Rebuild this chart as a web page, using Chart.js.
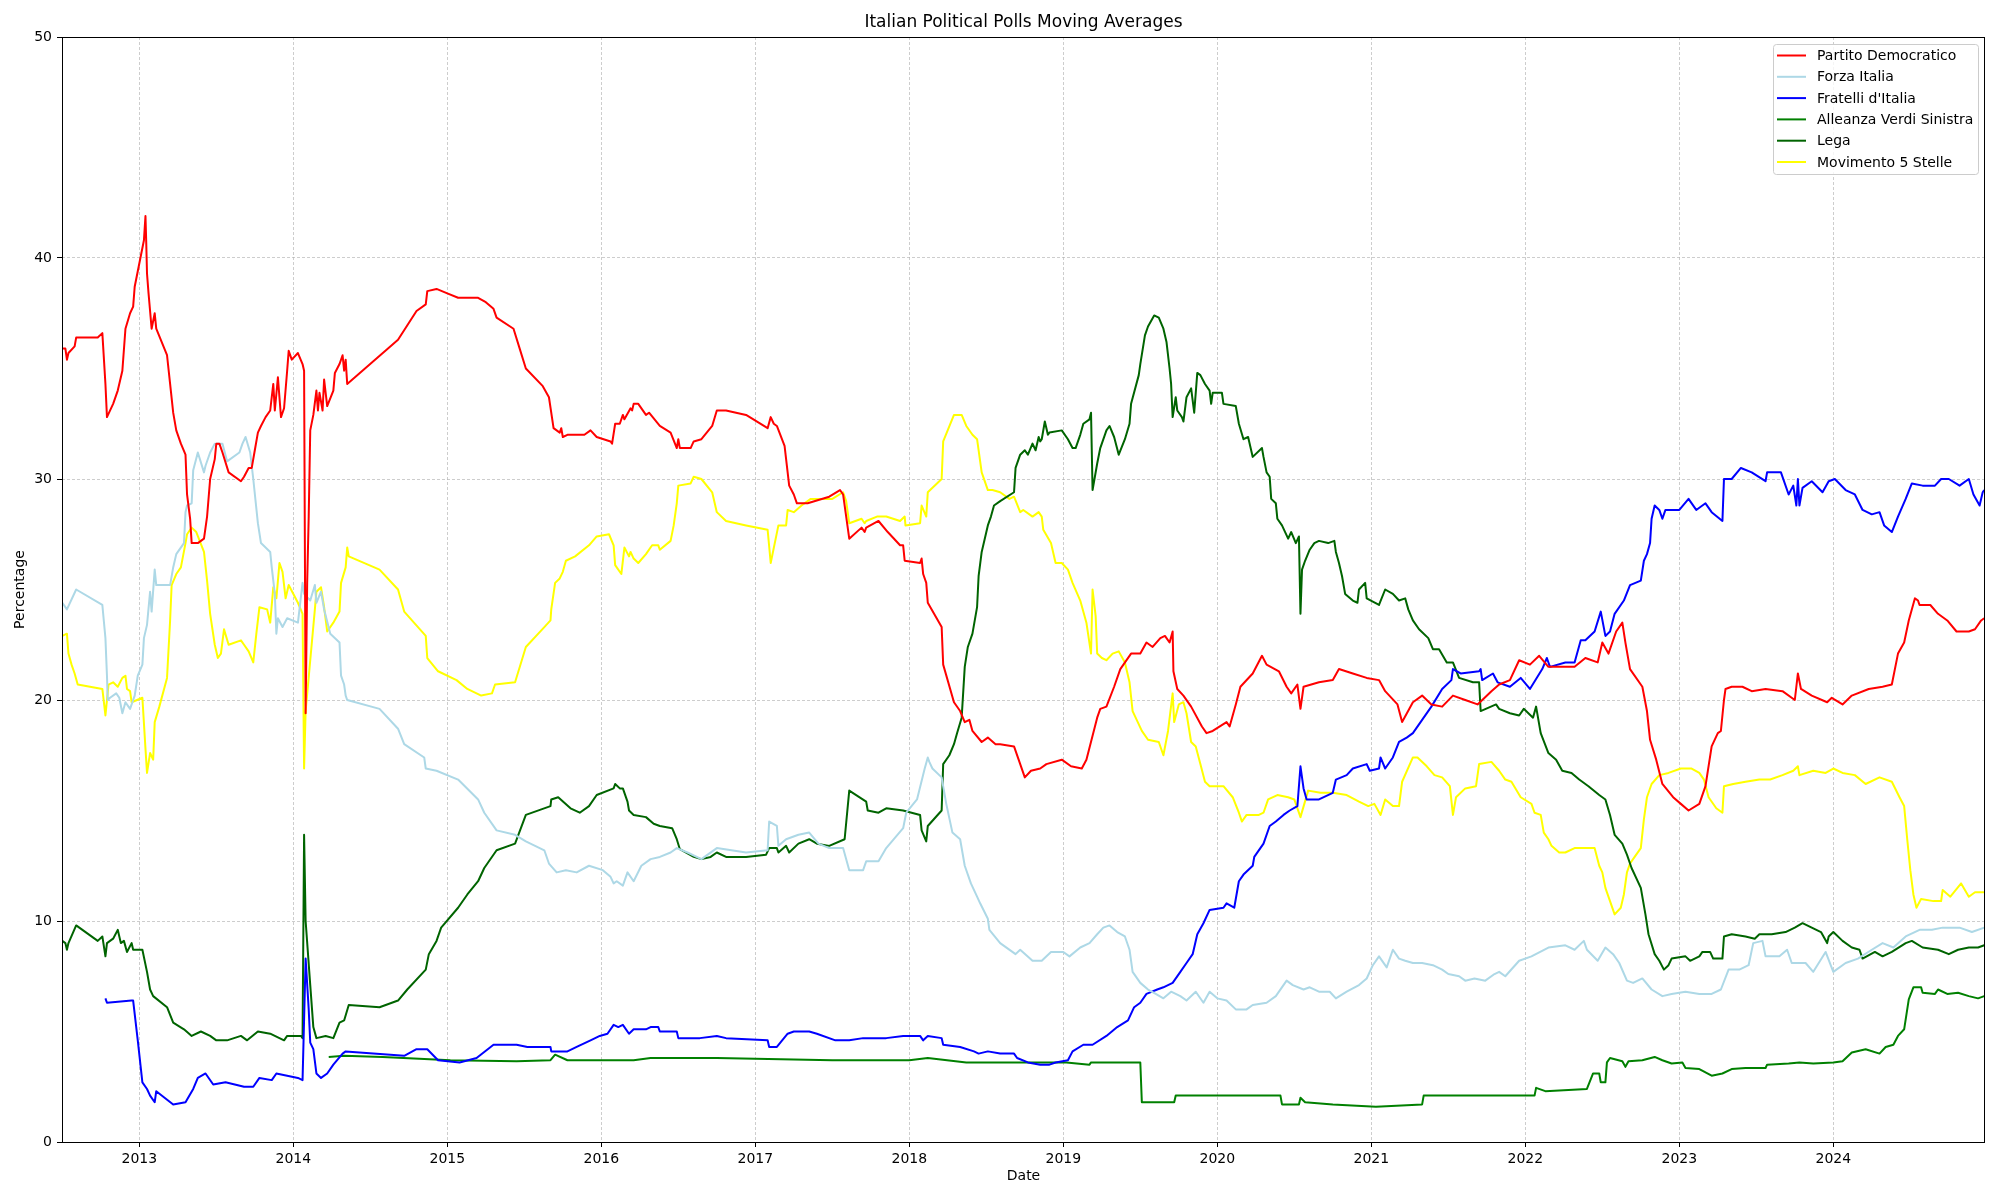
<!DOCTYPE html>
<html>
<head>
<meta charset="utf-8">
<title>Italian Political Polls Moving Averages</title>
<script src="https://cdn.jsdelivr.net/npm/chart.js@4.4.0/dist/chart.umd.min.js"></script>
<style>
  html, body { margin: 0; padding: 0; background: #fff; }
  #contenedor { width: 2000px; height: 1200px; }
</style>
</head>
<body>
<div id="contenedor"><canvas id="graficoEncuestas" width="2000" height="1200"></canvas></div>
<script>
// ---- datos: [anio decimal, porcentaje]
const partitoDemocratico = [
[2012.50,35.9],[2012.52,35.9],[2012.53,35.4],[2012.54,35.7],[2012.58,36.0],[2012.59,36.4],[2012.73,36.4],[2012.76,36.6],
[2012.78,34.3],[2012.79,32.8],[2012.83,33.4],[2012.86,34.0],[2012.89,34.9],[2012.91,36.8],[2012.94,37.5],[2012.96,37.8],
[2012.97,38.7],[2013.03,40.8],[2013.04,41.9],[2013.045,40.7],[2013.05,39.3],[2013.06,38.4],[2013.08,36.8],[2013.10,37.5],
[2013.11,36.8],[2013.18,35.6],[2013.20,34.3],[2013.22,33.0],[2013.24,32.2],[2013.27,31.6],[2013.30,31.1],[2013.31,29.3],
[2013.33,28.2],[2013.34,27.1],[2013.38,27.1],[2013.42,27.3],[2013.44,28.3],[2013.46,30.0],[2013.49,30.9],[2013.50,31.6],
[2013.52,31.6],[2013.54,31.2],[2013.58,30.3],[2013.66,29.9],[2013.68,30.1],[2013.71,30.5],[2013.73,30.5],[2013.75,31.3],
[2013.77,32.1],[2013.79,32.4],[2013.82,32.8],[2013.85,33.1],[2013.87,34.3],[2013.88,33.1],[2013.90,34.6],[2013.92,32.8],
[2013.94,33.2],[2013.96,34.9],[2013.97,35.8],[2013.99,35.4],[2014.03,35.7],[2014.06,35.2],[2014.07,34.9],[2014.08,19.4],
[2014.09,25.3],[2014.10,28.3],[2014.11,32.2],[2014.13,32.9],[2014.15,34.0],[2014.16,33.1],[2014.17,33.9],[2014.19,33.1],
[2014.20,34.5],[2014.22,33.3],[2014.26,34.0],[2014.27,34.8],[2014.30,35.2],[2014.32,35.6],[2014.33,34.9],[2014.34,35.4],
[2014.35,34.3],[2014.68,36.3],[2014.80,37.6],[2014.86,37.9],[2014.87,38.5],[2014.93,38.6],[2015.00,38.4],[2015.07,38.2],
[2015.20,38.2],[2015.25,38.0],[2015.30,37.7],[2015.32,37.3],[2015.43,36.8],[2015.47,35.9],[2015.51,35.0],[2015.62,34.2],
[2015.66,33.7],[2015.69,32.3],[2015.73,32.1],[2015.74,32.3],[2015.75,31.9],[2015.78,32.0],[2015.86,32.0],[2015.89,32.0],
[2015.93,32.2],[2015.97,31.9],[2016.06,31.7],[2016.07,31.6],[2016.09,32.5],[2016.12,32.5],[2016.14,32.9],[2016.15,32.7],
[2016.19,33.2],[2016.20,33.1],[2016.21,33.4],[2016.24,33.4],[2016.29,32.9],[2016.31,33.0],[2016.38,32.4],[2016.45,32.1],
[2016.49,31.4],[2016.50,31.8],[2016.51,31.4],[2016.58,31.4],[2016.60,31.7],[2016.65,31.8],[2016.72,32.4],[2016.75,33.1],
[2016.81,33.1],[2016.94,32.9],[2017.08,32.3],[2017.10,32.8],[2017.12,32.5],[2017.14,32.4],[2017.19,31.5],[2017.22,29.7],
[2017.25,29.3],[2017.27,28.9],[2017.34,28.9],[2017.48,29.2],[2017.55,29.5],[2017.57,29.3],[2017.61,27.3],[2017.69,27.8],
[2017.71,27.6],[2017.72,27.8],[2017.80,28.1],[2017.86,27.6],[2017.94,27.0],[2017.96,27.0],[2017.97,26.3],[2018.07,26.2],
[2018.08,26.4],[2018.09,25.7],[2018.11,25.3],[2018.12,24.4],[2018.21,23.3],[2018.22,21.6],[2018.29,19.9],[2018.33,19.5],
[2018.36,19.0],[2018.39,19.1],[2018.41,18.6],[2018.47,18.1],[2018.51,18.3],[2018.56,18.0],[2018.59,18.0],[2018.68,17.9],
[2018.71,17.3],[2018.75,16.5],[2018.79,16.8],[2018.85,16.9],[2018.89,17.1],[2018.99,17.3],[2019.05,17.0],[2019.12,16.9],
[2019.15,17.3],[2019.22,19.2],[2019.24,19.6],[2019.28,19.7],[2019.33,20.6],[2019.37,21.4],[2019.44,22.1],[2019.50,22.1],
[2019.54,22.6],[2019.58,22.4],[2019.63,22.8],[2019.66,22.9],[2019.69,22.6],[2019.71,23.1],[2019.715,21.3],[2019.74,20.5],
[2019.78,20.2],[2019.83,19.7],[2019.90,18.8],[2019.93,18.5],[2019.97,18.6],[2020.06,19.0],[2020.08,18.8],[2020.12,19.8],
[2020.15,20.6],[2020.23,21.2],[2020.29,22.0],[2020.32,21.6],[2020.40,21.3],[2020.45,20.6],[2020.48,20.3],[2020.52,20.7],
[2020.54,19.6],[2020.56,20.6],[2020.66,20.8],[2020.75,20.9],[2020.79,21.4],[2020.88,21.2],[2020.97,21.0],[2021.05,20.9],
[2021.09,20.4],[2021.17,19.8],[2021.20,19.0],[2021.27,19.9],[2021.33,20.2],[2021.39,19.8],[2021.46,19.7],[2021.53,20.2],
[2021.61,20.0],[2021.69,19.8],[2021.78,20.4],[2021.83,20.7],[2021.90,20.9],[2021.96,21.8],[2022.03,21.6],[2022.09,22.0],
[2022.15,21.5],[2022.32,21.5],[2022.39,21.9],[2022.47,21.7],[2022.50,22.6],[2022.54,22.1],[2022.59,23.1],[2022.63,23.5],
[2022.65,22.6],[2022.68,21.4],[2022.76,20.6],[2022.79,19.5],[2022.81,18.2],[2022.85,17.3],[2022.89,16.2],[2022.96,15.6],
[2023.01,15.3],[2023.06,15.0],[2023.13,15.3],[2023.17,16.1],[2023.21,17.9],[2023.25,18.5],[2023.27,18.6],[2023.29,20.0],
[2023.30,20.5],[2023.34,20.6],[2023.41,20.6],[2023.47,20.4],[2023.56,20.5],[2023.67,20.4],[2023.75,20.0],[2023.77,21.2],
[2023.79,20.5],[2023.86,20.2],[2023.96,19.9],[2023.99,20.1],[2024.06,19.8],[2024.12,20.2],[2024.23,20.5],[2024.32,20.6],
[2024.38,20.7],[2024.42,22.1],[2024.46,22.6],[2024.49,23.6],[2024.53,24.6],[2024.55,24.5],[2024.56,24.3],[2024.63,24.3],
[2024.68,23.9],[2024.74,23.6],[2024.80,23.1],[2024.88,23.1],[2024.92,23.2],[2024.96,23.6],[2024.98,23.7]
];

const forzaItalia = [
[2012.50,24.4],[2012.53,24.1],[2012.59,25.0],[2012.76,24.3],[2012.78,22.8],[2012.79,21.1],[2012.795,20.0],[2012.81,20.1],
[2012.85,20.3],[2012.87,20.1],[2012.89,19.4],[2012.91,19.9],[2012.94,19.6],[2012.97,20.2],[2012.99,21.1],[2013.02,21.6],
[2013.03,22.8],[2013.05,23.4],[2013.07,24.9],[2013.08,24.0],[2013.10,25.9],[2013.11,25.2],[2013.20,25.2],[2013.22,26.0],
[2013.24,26.6],[2013.29,27.1],[2013.30,28.5],[2013.31,28.8],[2013.34,28.9],[2013.35,30.4],[2013.38,31.2],[2013.42,30.3],
[2013.43,30.6],[2013.46,31.2],[2013.49,31.6],[2013.52,31.6],[2013.54,31.6],[2013.57,30.8],[2013.65,31.2],[2013.67,31.6],
[2013.69,31.9],[2013.72,31.2],[2013.74,30.0],[2013.77,28.0],[2013.79,27.1],[2013.85,26.7],[2013.86,26.0],[2013.88,24.8],
[2013.89,23.0],[2013.90,23.7],[2013.93,23.3],[2013.96,23.7],[2014.03,23.5],[2014.06,25.3],[2014.07,24.8],[2014.11,24.5],
[2014.14,25.2],[2014.15,24.4],[2014.18,24.9],[2014.20,24.1],[2014.24,23.0],[2014.30,22.6],[2014.31,21.1],[2014.33,20.7],
[2014.34,20.2],[2014.35,20.0],[2014.56,19.6],[2014.68,18.7],[2014.72,18.0],[2014.85,17.4],[2014.86,16.9],[2014.93,16.8],
[2015.07,16.4],[2015.20,15.5],[2015.24,14.9],[2015.32,14.1],[2015.44,13.9],[2015.51,13.6],[2015.63,13.2],[2015.66,12.6],
[2015.71,12.2],[2015.77,12.3],[2015.84,12.2],[2015.92,12.5],[2016.01,12.3],[2016.06,12.0],[2016.08,11.7],[2016.10,11.8],
[2016.14,11.6],[2016.17,12.2],[2016.21,11.8],[2016.26,12.5],[2016.32,12.8],[2016.38,12.9],[2016.45,13.1],[2016.49,13.3],
[2016.56,13.1],[2016.65,12.8],[2016.75,13.3],[2016.94,13.1],[2017.08,13.2],[2017.09,14.5],[2017.14,14.3],[2017.15,13.4],
[2017.20,13.7],[2017.28,13.9],[2017.35,14.0],[2017.41,13.5],[2017.48,13.3],[2017.57,13.3],[2017.61,12.3],[2017.70,12.3],
[2017.72,12.7],[2017.80,12.7],[2017.85,13.3],[2017.96,14.2],[2017.98,14.9],[2018.05,15.5],[2018.10,16.9],[2018.12,17.4],
[2018.13,17.2],[2018.15,16.9],[2018.21,16.5],[2018.24,15.3],[2018.28,14.0],[2018.33,13.7],[2018.36,12.5],[2018.40,11.7],
[2018.44,11.1],[2018.46,10.8],[2018.51,10.1],[2018.52,9.6],[2018.59,9.0],[2018.69,8.5],[2018.72,8.7],[2018.80,8.2],
[2018.86,8.2],[2018.92,8.6],[2019.00,8.6],[2019.04,8.4],[2019.11,8.8],[2019.17,9.0],[2019.22,9.4],[2019.26,9.7],
[2019.30,9.8],[2019.35,9.5],[2019.40,9.3],[2019.43,8.7],[2019.45,7.7],[2019.50,7.2],[2019.55,6.9],[2019.60,6.7],
[2019.65,6.5],[2019.70,6.8],[2019.76,6.6],[2019.80,6.4],[2019.86,6.8],[2019.91,6.3],[2019.95,6.8],[2020.00,6.5],
[2020.06,6.4],[2020.12,6.0],[2020.19,6.0],[2020.23,6.2],[2020.32,6.3],[2020.38,6.6],[2020.45,7.3],[2020.49,7.1],
[2020.56,6.9],[2020.60,7.0],[2020.66,6.8],[2020.73,6.8],[2020.77,6.5],[2020.84,6.8],[2020.92,7.1],[2020.97,7.4],
[2021.01,8.0],[2021.05,8.4],[2021.10,7.9],[2021.14,8.7],[2021.18,8.3],[2021.22,8.2],[2021.27,8.1],[2021.33,8.1],
[2021.40,8.0],[2021.46,7.8],[2021.50,7.6],[2021.57,7.5],[2021.61,7.3],[2021.67,7.4],[2021.74,7.3],[2021.80,7.6],
[2021.83,7.7],[2021.87,7.5],[2021.96,8.2],[2022.04,8.4],[2022.15,8.8],[2022.26,8.9],[2022.32,8.7],[2022.38,9.1],
[2022.40,8.7],[2022.47,8.2],[2022.52,8.8],[2022.57,8.5],[2022.61,8.1],[2022.66,7.3],[2022.70,7.2],[2022.76,7.4],
[2022.82,6.9],[2022.89,6.6],[2022.95,6.7],[2023.04,6.8],[2023.13,6.7],[2023.21,6.7],[2023.27,6.9],[2023.32,7.8],
[2023.39,7.8],[2023.45,8.0],[2023.48,9.0],[2023.54,9.1],[2023.56,8.4],[2023.65,8.4],[2023.70,8.7],[2023.73,8.1],
[2023.82,8.1],[2023.87,7.7],[2023.95,8.6],[2024.00,7.7],[2024.08,8.1],[2024.16,8.3],[2024.25,8.7],[2024.32,9.0],
[2024.39,8.8],[2024.47,9.3],[2024.56,9.6],[2024.64,9.6],[2024.71,9.7],[2024.82,9.7],[2024.90,9.5],[2024.98,9.7]
];

const fratelliItalia = [
[2012.78,6.5],[2012.79,6.3],[2012.95,6.4],[2012.96,6.4],[2012.99,4.6],[2013.02,2.7],[2013.05,2.4],[2013.07,2.1],
[2013.10,1.8],[2013.11,2.3],[2013.22,1.7],[2013.30,1.8],[2013.35,2.4],[2013.38,2.9],[2013.43,3.1],[2013.48,2.6],
[2013.56,2.7],[2013.68,2.5],[2013.74,2.5],[2013.78,2.9],[2013.86,2.8],[2013.89,3.1],[2013.96,3.0],[2014.03,2.9],
[2014.06,2.8],[2014.08,8.3],[2014.10,6.0],[2014.11,4.5],[2014.13,4.2],[2014.15,3.1],[2014.18,2.9],[2014.22,3.1],
[2014.26,3.5],[2014.32,4.0],[2014.34,4.1],[2014.72,3.9],[2014.80,4.2],[2014.87,4.2],[2014.94,3.7],[2015.08,3.6],
[2015.19,3.8],[2015.30,4.4],[2015.45,4.4],[2015.52,4.3],[2015.67,4.3],[2015.675,4.1],[2015.78,4.1],[2015.84,4.3],
[2015.93,4.6],[2015.99,4.8],[2016.04,4.9],[2016.08,5.3],[2016.11,5.2],[2016.14,5.3],[2016.18,4.9],[2016.21,5.1],
[2016.29,5.1],[2016.32,5.2],[2016.37,5.2],[2016.38,5.0],[2016.49,5.0],[2016.50,4.7],[2016.64,4.7],[2016.75,4.8],
[2016.81,4.7],[2017.08,4.6],[2017.09,4.3],[2017.14,4.3],[2017.21,4.9],[2017.25,5.0],[2017.35,5.0],[2017.40,4.9],
[2017.52,4.6],[2017.61,4.6],[2017.70,4.7],[2017.85,4.7],[2017.96,4.8],[2018.07,4.8],[2018.09,4.6],[2018.12,4.8],
[2018.21,4.7],[2018.22,4.4],[2018.33,4.3],[2018.42,4.1],[2018.45,4.0],[2018.51,4.1],[2018.59,4.0],[2018.68,4.0],
[2018.70,3.8],[2018.77,3.6],[2018.85,3.5],[2018.91,3.5],[2018.95,3.6],[2019.03,3.7],[2019.06,4.1],[2019.13,4.4],
[2019.19,4.4],[2019.28,4.8],[2019.35,5.2],[2019.42,5.5],[2019.46,6.1],[2019.50,6.3],[2019.54,6.7],[2019.61,6.9],
[2019.65,7.0],[2019.71,7.2],[2019.76,7.7],[2019.80,8.1],[2019.84,8.5],[2019.87,9.4],[2019.91,9.9],[2019.95,10.5],
[2020.04,10.6],[2020.06,10.8],[2020.11,10.6],[2020.14,11.8],[2020.17,12.1],[2020.23,12.5],[2020.24,12.9],[2020.30,13.5],
[2020.34,14.3],[2020.38,14.5],[2020.43,14.8],[2020.47,15.0],[2020.52,15.2],[2020.54,17.0],[2020.56,16.0],[2020.58,15.5],
[2020.66,15.5],[2020.75,15.8],[2020.77,16.4],[2020.84,16.6],[2020.88,16.9],[2020.97,17.1],[2020.99,16.8],[2021.05,16.9],
[2021.06,17.4],[2021.09,16.9],[2021.14,17.4],[2021.18,18.1],[2021.23,18.3],[2021.27,18.5],[2021.33,19.1],[2021.39,19.7],
[2021.46,20.5],[2021.52,20.9],[2021.53,21.4],[2021.58,21.2],[2021.70,21.3],[2021.71,21.4],[2021.72,20.9],[2021.79,21.2],
[2021.82,20.8],[2021.90,20.6],[2021.97,21.0],[2022.03,20.5],[2022.11,21.4],[2022.14,21.9],[2022.16,21.5],[2022.26,21.7],
[2022.32,21.7],[2022.36,22.7],[2022.39,22.7],[2022.45,23.1],[2022.49,24.0],[2022.52,22.9],[2022.55,23.1],[2022.58,23.9],
[2022.64,24.5],[2022.68,25.2],[2022.75,25.4],[2022.77,26.3],[2022.79,26.6],[2022.81,27.1],[2022.82,28.2],[2022.84,28.8],
[2022.87,28.6],[2022.89,28.2],[2022.91,28.6],[2023.00,28.6],[2023.06,29.1],[2023.11,28.6],[2023.17,28.9],[2023.21,28.5],
[2023.28,28.1],[2023.29,30.0],[2023.34,30.0],[2023.40,30.5],[2023.47,30.3],[2023.56,29.9],[2023.57,30.3],[2023.66,30.3],
[2023.71,29.3],[2023.74,29.7],[2023.76,28.8],[2023.77,30.0],[2023.78,28.8],[2023.80,29.6],[2023.86,29.9],[2023.93,29.4],
[2023.97,29.9],[2024.01,30.0],[2024.08,29.5],[2024.14,29.3],[2024.19,28.6],[2024.25,28.4],[2024.30,28.5],[2024.33,27.9],
[2024.38,27.6],[2024.42,28.3],[2024.47,29.1],[2024.51,29.8],[2024.58,29.7],[2024.66,29.7],[2024.70,30.0],[2024.75,30.0],
[2024.82,29.7],[2024.88,30.0],[2024.91,29.3],[2024.95,28.8],[2024.97,29.4],[2024.98,29.5]
];

const alleanzaVerdiSinistra = [
[2014.23,3.85],[2014.33,3.9],[2014.58,3.85],[2015.02,3.7],[2015.45,3.65],[2015.67,3.7],[2015.70,3.95],[2015.78,3.7],
[2016.21,3.7],[2016.32,3.8],[2016.75,3.8],[2017.50,3.7],[2018.00,3.7],[2018.12,3.8],[2018.37,3.6],[2018.59,3.6],
[2019.02,3.6],[2019.17,3.5],[2019.18,3.6],[2019.50,3.6],[2019.51,1.8],[2019.72,1.8],[2019.73,2.1],[2020.10,2.1],
[2020.41,2.1],[2020.42,1.7],[2020.53,1.7],[2020.54,2.0],[2020.57,1.8],[2020.75,1.7],[2021.03,1.6],[2021.33,1.7],
[2021.34,2.1],[2021.83,2.1],[2022.06,2.1],[2022.07,2.45],[2022.13,2.3],[2022.40,2.4],[2022.44,3.1],[2022.48,3.1],
[2022.49,2.7],[2022.52,2.7],[2022.53,3.6],[2022.55,3.8],[2022.63,3.65],[2022.65,3.4],[2022.67,3.65],[2022.76,3.7],
[2022.84,3.85],[2022.89,3.7],[2022.95,3.55],[2023.02,3.6],[2023.04,3.35],[2023.13,3.3],[2023.21,3.0],[2023.28,3.1],
[2023.34,3.3],[2023.43,3.35],[2023.56,3.35],[2023.57,3.5],[2023.71,3.55],[2023.78,3.6],[2023.87,3.55],[2024.00,3.6],
[2024.06,3.65],[2024.12,4.05],[2024.21,4.2],[2024.30,4.0],[2024.34,4.3],[2024.39,4.4],[2024.42,4.8],[2024.46,5.1],
[2024.49,6.45],[2024.52,7.0],[2024.57,7.0],[2024.58,6.75],[2024.66,6.7],[2024.68,6.9],[2024.74,6.7],[2024.81,6.75],
[2024.88,6.6],[2024.94,6.5],[2024.98,6.6]
];

const lega = [
[2012.50,9.1],[2012.52,9.0],[2012.53,8.7],[2012.54,9.0],[2012.59,9.8],[2012.73,9.1],[2012.76,9.3],[2012.78,8.4],
[2012.79,9.0],[2012.83,9.2],[2012.86,9.6],[2012.88,9.0],[2012.90,9.1],[2012.92,8.6],[2012.95,9.0],[2012.96,8.7],
[2013.02,8.7],[2013.05,7.7],[2013.07,6.9],[2013.09,6.6],[2013.18,6.1],[2013.22,5.4],[2013.29,5.1],[2013.34,4.8],
[2013.40,5.0],[2013.46,4.8],[2013.50,4.6],[2013.57,4.6],[2013.66,4.8],[2013.70,4.6],[2013.77,5.0],[2013.85,4.9],
[2013.94,4.6],[2013.96,4.8],[2014.05,4.8],[2014.06,4.7],[2014.07,13.9],[2014.08,10.0],[2014.11,7.1],[2014.13,5.2],
[2014.15,4.7],[2014.21,4.8],[2014.26,4.7],[2014.30,5.4],[2014.33,5.5],[2014.36,6.2],[2014.56,6.1],[2014.68,6.4],
[2014.74,6.9],[2014.86,7.8],[2014.88,8.5],[2014.93,9.1],[2014.96,9.7],[2015.07,10.6],[2015.13,11.2],[2015.20,11.8],
[2015.24,12.4],[2015.32,13.2],[2015.44,13.5],[2015.51,14.8],[2015.67,15.2],[2015.675,15.5],[2015.72,15.6],[2015.80,15.1],
[2015.86,14.9],[2015.92,15.2],[2015.97,15.7],[2016.08,16.0],[2016.09,16.2],[2016.12,16.0],[2016.14,16.0],[2016.17,15.4],
[2016.18,15.0],[2016.21,14.8],[2016.29,14.7],[2016.34,14.4],[2016.38,14.3],[2016.46,14.2],[2016.49,13.7],[2016.51,13.25],
[2016.60,12.9],[2016.65,12.8],[2016.71,12.9],[2016.75,13.1],[2016.81,12.9],[2016.94,12.9],[2017.07,13.0],[2017.09,13.3],
[2017.14,13.3],[2017.15,13.1],[2017.20,13.4],[2017.22,13.1],[2017.28,13.5],[2017.35,13.7],[2017.40,13.5],[2017.48,13.4],
[2017.58,13.7],[2017.61,15.9],[2017.72,15.4],[2017.73,15.0],[2017.80,14.9],[2017.85,15.1],[2017.96,15.0],[2018.07,14.8],
[2018.08,14.1],[2018.11,13.6],[2018.12,14.3],[2018.21,15.0],[2018.22,17.1],[2018.26,17.5],[2018.29,18.0],[2018.31,18.5],
[2018.34,19.2],[2018.36,21.5],[2018.38,22.4],[2018.41,23.0],[2018.44,24.2],[2018.45,25.6],[2018.47,26.7],[2018.49,27.3],
[2018.51,27.9],[2018.53,28.3],[2018.55,28.8],[2018.59,29.0],[2018.68,29.4],[2018.69,30.5],[2018.72,31.1],[2018.75,31.3],
[2018.77,31.1],[2018.80,31.6],[2018.82,31.3],[2018.84,31.9],[2018.85,31.7],[2018.86,31.8],[2018.88,32.6],[2018.90,32.0],
[2018.91,32.1],[2018.99,32.2],[2019.03,31.8],[2019.06,31.4],[2019.08,31.4],[2019.11,32.0],[2019.13,32.5],[2019.17,32.7],
[2019.18,33.0],[2019.19,29.5],[2019.22,30.7],[2019.24,31.4],[2019.28,32.2],[2019.30,32.4],[2019.33,31.9],[2019.36,31.1],
[2019.40,31.8],[2019.43,32.5],[2019.44,33.4],[2019.49,34.7],[2019.50,35.2],[2019.53,36.5],[2019.55,36.9],[2019.59,37.4],
[2019.62,37.3],[2019.65,36.8],[2019.67,36.2],[2019.69,35.0],[2019.70,34.3],[2019.71,32.8],[2019.73,33.7],[2019.74,33.1],
[2019.77,32.8],[2019.78,32.6],[2019.80,33.7],[2019.83,34.1],[2019.85,33.0],[2019.87,34.8],[2019.89,34.7],[2019.92,34.3],
[2019.95,34.0],[2019.96,33.4],[2019.97,33.9],[2020.03,33.9],[2020.04,33.4],[2020.12,33.3],[2020.14,32.5],[2020.17,31.8],
[2020.20,31.9],[2020.23,31.0],[2020.29,31.4],[2020.30,31.0],[2020.32,30.3],[2020.34,30.1],[2020.35,29.1],[2020.38,28.9],
[2020.39,28.2],[2020.42,27.9],[2020.46,27.3],[2020.48,27.6],[2020.51,27.1],[2020.53,27.4],[2020.54,23.9],[2020.55,25.9],
[2020.57,26.3],[2020.60,26.8],[2020.63,27.1],[2020.66,27.2],[2020.72,27.1],[2020.76,27.2],[2020.77,26.7],[2020.79,26.2],
[2020.81,25.6],[2020.83,24.8],[2020.88,24.5],[2020.91,24.4],[2020.92,25.0],[2020.96,25.3],[2020.97,24.6],[2021.05,24.3],
[2021.09,25.0],[2021.14,24.8],[2021.18,24.5],[2021.22,24.6],[2021.24,24.1],[2021.27,23.6],[2021.31,23.2],[2021.37,22.8],
[2021.40,22.3],[2021.44,22.3],[2021.49,21.7],[2021.53,21.7],[2021.57,21.0],[2021.66,20.8],[2021.70,20.8],[2021.71,19.5],
[2021.81,19.8],[2021.83,19.6],[2021.90,19.4],[2021.96,19.3],[2021.99,19.6],[2022.05,19.2],[2022.07,19.7],[2022.10,18.5],
[2022.15,17.6],[2022.20,17.3],[2022.24,16.8],[2022.30,16.7],[2022.35,16.4],[2022.41,16.1],[2022.48,15.7],[2022.52,15.5],
[2022.55,14.8],[2022.58,13.9],[2022.63,13.5],[2022.66,13.0],[2022.69,12.4],[2022.75,11.5],[2022.78,10.3],[2022.80,9.4],
[2022.84,8.5],[2022.87,8.2],[2022.90,7.8],[2022.93,8.0],[2022.95,8.3],[2023.04,8.4],[2023.07,8.2],[2023.13,8.4],
[2023.15,8.6],[2023.20,8.6],[2023.22,8.3],[2023.28,8.3],[2023.29,9.3],[2023.34,9.4],[2023.43,9.3],[2023.49,9.2],
[2023.52,9.4],[2023.60,9.4],[2023.69,9.5],[2023.75,9.7],[2023.80,9.9],[2023.86,9.7],[2023.92,9.5],[2023.96,9.0],
[2023.97,9.3],[2024.00,9.5],[2024.06,9.1],[2024.12,8.8],[2024.17,8.7],[2024.19,8.3],[2024.27,8.6],[2024.32,8.4],
[2024.38,8.6],[2024.47,9.0],[2024.51,9.1],[2024.58,8.8],[2024.68,8.7],[2024.75,8.5],[2024.81,8.7],[2024.88,8.8],
[2024.94,8.8],[2024.98,8.9]
];

const movimento5Stelle = [
[2012.50,22.9],[2012.53,23.0],[2012.54,22.1],[2012.56,21.6],[2012.58,21.2],[2012.60,20.7],[2012.76,20.5],[2012.78,19.3],
[2012.80,20.7],[2012.83,20.8],[2012.86,20.6],[2012.89,21.0],[2012.91,21.1],[2012.92,20.5],[2012.94,20.4],[2012.95,19.9],
[2013.02,20.1],[2013.04,17.8],[2013.05,16.7],[2013.07,17.6],[2013.09,17.3],[2013.10,19.0],[2013.13,19.7],[2013.18,21.0],
[2013.20,23.6],[2013.21,25.2],[2013.24,25.7],[2013.27,26.0],[2013.30,27.1],[2013.31,27.5],[2013.34,27.8],[2013.37,27.6],
[2013.42,26.7],[2013.44,25.4],[2013.46,23.9],[2013.49,22.5],[2013.51,21.9],[2013.53,22.1],[2013.55,23.2],[2013.58,22.5],
[2013.66,22.7],[2013.68,22.5],[2013.71,22.2],[2013.74,21.7],[2013.76,23.0],[2013.78,24.2],[2013.83,24.1],[2013.85,23.5],
[2013.87,25.1],[2013.89,24.6],[2013.91,26.2],[2013.93,25.8],[2013.95,24.6],[2013.97,25.2],[2014.03,24.4],[2014.06,23.9],
[2014.07,16.9],[2014.08,19.5],[2014.11,21.8],[2014.14,24.1],[2014.15,24.9],[2014.18,25.1],[2014.20,24.2],[2014.22,23.1],
[2014.26,23.5],[2014.30,24.0],[2014.31,25.3],[2014.34,26.0],[2014.35,26.9],[2014.36,26.5],[2014.56,25.9],[2014.68,25.0],
[2014.72,24.0],[2014.86,22.9],[2014.87,21.9],[2014.94,21.3],[2015.06,20.9],[2015.13,20.5],[2015.22,20.2],[2015.29,20.3],
[2015.31,20.7],[2015.44,20.8],[2015.51,22.4],[2015.63,23.3],[2015.67,23.6],[2015.675,24.1],[2015.70,25.3],[2015.73,25.5],
[2015.75,25.8],[2015.77,26.3],[2015.83,26.5],[2015.92,27.0],[2015.97,27.4],[2016.05,27.5],[2016.08,27.0],[2016.09,26.1],
[2016.13,25.7],[2016.15,26.9],[2016.18,26.5],[2016.19,26.7],[2016.21,26.4],[2016.24,26.2],[2016.29,26.6],[2016.33,27.0],
[2016.37,27.0],[2016.38,26.8],[2016.45,27.2],[2016.47,27.9],[2016.49,28.9],[2016.50,29.7],[2016.58,29.8],[2016.60,30.1],
[2016.65,30.0],[2016.72,29.4],[2016.75,28.5],[2016.81,28.1],[2016.94,27.9],[2017.08,27.7],[2017.10,26.2],[2017.15,27.9],
[2017.20,27.9],[2017.21,28.6],[2017.25,28.5],[2017.30,28.8],[2017.36,29.1],[2017.50,29.1],[2017.57,29.4],[2017.59,29.0],
[2017.61,28.0],[2017.69,28.2],[2017.71,28.0],[2017.72,28.1],[2017.79,28.3],[2017.85,28.3],[2017.94,28.1],[2017.97,28.3],
[2017.975,27.9],[2018.07,28.0],[2018.08,28.8],[2018.11,28.3],[2018.12,29.4],[2018.21,30.0],[2018.22,31.7],[2018.29,32.9],
[2018.34,32.9],[2018.37,32.4],[2018.41,32.0],[2018.44,31.8],[2018.47,30.3],[2018.51,29.5],[2018.54,29.5],[2018.59,29.4],
[2018.65,29.1],[2018.68,29.2],[2018.72,28.5],[2018.74,28.6],[2018.80,28.3],[2018.84,28.5],[2018.86,28.3],[2018.87,27.7],
[2018.92,27.1],[2018.95,26.2],[2018.99,26.2],[2019.03,25.9],[2019.06,25.3],[2019.11,24.5],[2019.15,23.5],[2019.18,22.1],
[2019.19,25.0],[2019.21,23.8],[2019.22,22.1],[2019.25,21.9],[2019.28,21.8],[2019.32,22.1],[2019.36,22.2],[2019.40,21.7],
[2019.43,20.8],[2019.45,19.5],[2019.51,18.6],[2019.55,18.2],[2019.62,18.1],[2019.65,17.5],[2019.68,18.6],[2019.71,20.3],
[2019.72,19.0],[2019.75,19.8],[2019.78,19.9],[2019.80,19.4],[2019.83,18.1],[2019.86,17.9],[2019.89,17.1],[2019.92,16.3],
[2019.95,16.1],[2020.04,16.1],[2020.10,15.6],[2020.14,14.9],[2020.16,14.5],[2020.19,14.8],[2020.23,14.8],[2020.27,14.8],
[2020.30,14.9],[2020.33,15.5],[2020.39,15.7],[2020.46,15.6],[2020.50,15.5],[2020.54,14.7],[2020.59,15.9],[2020.67,15.8],
[2020.75,15.8],[2020.84,15.7],[2020.92,15.4],[2020.98,15.2],[2021.02,15.3],[2021.06,14.8],[2021.09,15.5],[2021.14,15.2],
[2021.18,15.2],[2021.20,16.3],[2021.27,17.4],[2021.30,17.4],[2021.36,17.0],[2021.41,16.6],[2021.46,16.5],[2021.51,16.1],
[2021.53,14.8],[2021.55,15.6],[2021.61,16.0],[2021.68,16.1],[2021.70,17.1],[2021.78,17.2],[2021.83,16.8],[2021.87,16.4],
[2021.91,16.3],[2021.97,15.6],[2022.04,15.3],[2022.06,14.9],[2022.10,14.8],[2022.12,14.0],[2022.15,13.7],[2022.17,13.4],
[2022.22,13.1],[2022.26,13.1],[2022.32,13.3],[2022.45,13.3],[2022.48,12.5],[2022.50,12.2],[2022.52,11.5],[2022.55,10.9],
[2022.58,10.3],[2022.62,10.6],[2022.64,11.2],[2022.66,12.2],[2022.68,12.6],[2022.71,12.9],[2022.75,13.3],[2022.77,14.6],
[2022.79,15.6],[2022.82,16.2],[2022.87,16.6],[2022.93,16.7],[2023.01,16.9],[2023.08,16.9],[2023.13,16.7],[2023.16,16.4],
[2023.19,15.6],[2023.24,15.1],[2023.28,14.9],[2023.29,16.1],[2023.35,16.2],[2023.43,16.3],[2023.52,16.4],[2023.59,16.4],
[2023.67,16.6],[2023.74,16.8],[2023.77,17.0],[2023.78,16.6],[2023.87,16.8],[2023.95,16.7],[2024.00,16.9],[2024.06,16.7],
[2024.14,16.6],[2024.21,16.2],[2024.30,16.5],[2024.38,16.3],[2024.43,15.6],[2024.46,15.2],[2024.48,13.7],[2024.50,12.3],
[2024.52,11.2],[2024.54,10.6],[2024.57,11.0],[2024.65,10.9],[2024.70,10.9],[2024.71,11.4],[2024.76,11.1],[2024.83,11.7],
[2024.88,11.1],[2024.92,11.3],[2024.98,11.3]
];

const etiquetas = ["Partito Democratico", "Forza Italia", "Fratelli d'Italia", "Alleanza Verdi Sinistra", "Lega", "Movimento 5 Stelle"];
const colores = ["red", "lightblue", "blue", "green", "darkgreen", "yellow"];
const series = [partitoDemocratico, forzaItalia, fratelliItalia, alleanzaVerdiSinistra, lega, movimento5Stelle];

const aniosTicks = [2013, 2014, 2015, 2016, 2017, 2018, 2019, 2020, 2021, 2022, 2023, 2024];
const porcentajeTicks = [0, 10, 20, 30, 40, 50];
const xMin = 2012.498, xMax = 2024.985;

(function(){

const FUENTE = "'DejaVu Sans', sans-serif";
Chart.defaults.font.family = FUENTE;
Chart.defaults.font.size = 14;
Chart.defaults.color = "#000";

const colorGrilla = "rgba(176,176,176,0.8)";

//----titulo centrado sobre el area del grafico (como matplotlib)
const pluginTitulo = {
    id: "tituloCentrado",
    afterDraw(chart) {
        const {ctx, chartArea} = chart;
        ctx.save();
        ctx.font = "17px " + FUENTE;
        ctx.fillStyle = "#000";
        ctx.textAlign = "center";
        ctx.textBaseline = "middle";
        ctx.fillText("Italian Political Polls Moving Averages", (chartArea.left + chartArea.right) / 2, 23);
        ctx.restore();
    }
};

//----marco negro alrededor del area
const pluginMarco = {
    id: "marco",
    afterDatasetsDraw(chart) {
        const {ctx, chartArea: a} = chart;
        ctx.save();
        ctx.strokeStyle = "#000";
        ctx.lineWidth = 1;
        ctx.strokeRect(Math.round(a.left) + 0.5, Math.round(a.top) + 0.5, Math.round(a.right - a.left) - 1, Math.round(a.bottom - a.top));
        ctx.restore();
    }
};

//----leyenda dentro del grafico, arriba a la derecha
const pluginLeyenda = {
    id: "leyendaInterna",
    afterDraw(chart) {
        const {ctx, chartArea: a} = chart;
        const x0 = a.right - 212, y0 = a.top + 7, w = 205, h = 130;
        ctx.save();
        ctx.beginPath();
        ctx.roundRect(x0 + 0.5, y0 + 0.5, w, h, 3);
        ctx.fillStyle = "rgba(255,255,255,0.8)";
        ctx.fill();
        ctx.strokeStyle = "#cccccc";
        ctx.lineWidth = 1;
        ctx.stroke();
        ctx.font = "14px " + FUENTE;
        ctx.textBaseline = "middle";
        chart.data.datasets.forEach((ds, i) => {
            const y = y0 + 11.5 + i * 21.3;
            ctx.beginPath();
            ctx.moveTo(x0 + 4, y);
            ctx.lineTo(x0 + 33, y);
            ctx.strokeStyle = ds.borderColor;
            ctx.lineWidth = 2;
            ctx.stroke();
            ctx.fillStyle = "#000";
            ctx.fillText(ds.label, x0 + 44, y + 1);
        });
        ctx.restore();
    }
};

const ctx = document.querySelector("#graficoEncuestas");

new Chart(ctx, {
    type: "line",
    data: {
        datasets: series.map((s, i) => ({
            label: etiquetas[i],
            data: s.map(p => ({x: p[0], y: p[1]})),
            borderColor: colores[i],
            backgroundColor: colores[i],
            borderWidth: 2,
            borderJoinStyle: "round",
            pointRadius: 0,
            tension: 0,
            fill: false
        }))
    },
    options: {
        responsive: false,
        animation: false,
        devicePixelRatio: 1,
        layout: {padding: {top: 37, right: 15, left: 0, bottom: 0}},
        plugins: {
            legend: {display: false},
            title: {display: false},
            tooltip: {enabled: false}
        },
        scales: {
            x: {
                type: "linear",
                min: xMin,
                max: xMax,
                afterBuildTicks: (eje) => { eje.ticks = aniosTicks.map(v => ({value: v})); },
                afterFit: (eje) => { eje.height = 58; },
                ticks: {callback: (v) => String(v), autoSkip: false, maxRotation: 0, padding: 4},
                grid: {color: colorGrilla, lineWidth: 0.8, tickColor: "#000", tickLength: 5, tickWidth: 1},
                border: {display: false, dash: [3, 2]},
                title: {display: true, text: "Date", font: {size: 14}, padding: {top: 0, bottom: 15.6}}
            },
            y: {
                min: 0,
                max: 50,
                afterBuildTicks: (eje) => { eje.ticks = porcentajeTicks.map(v => ({value: v})); },
                afterFit: (eje) => { eje.width = 62; },
                ticks: {callback: (v) => String(v), padding: 5},
                grid: {color: colorGrilla, lineWidth: 0.8, tickColor: "#000", tickLength: 5, tickWidth: 1},
                border: {display: false, dash: [3, 2]},
                title: {display: true, text: "Percentage", font: {size: 14}, padding: {top: 11.6, bottom: 0}}
            }
        }
    },
    plugins: [pluginMarco, pluginTitulo, pluginLeyenda]
});

})();
</script>
</body>
</html>
